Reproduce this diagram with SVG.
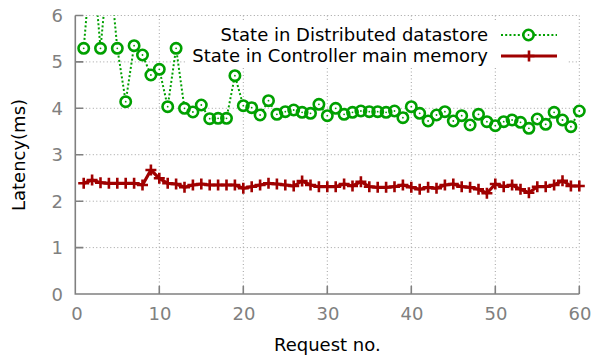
<svg xmlns="http://www.w3.org/2000/svg" xmlns:xlink="http://www.w3.org/1999/xlink" width="597" height="356" viewBox="0 0 597 356">
<style>
.grid{stroke:#a0a0a0;stroke-width:1;stroke-dasharray:1,2.5;fill:none}
.axis{stroke:#808080;stroke-width:1.6;fill:none}
.tick{stroke:#808080;stroke-width:1.6}
.tl{font-family:"DejaVu Sans",sans-serif;font-size:18px;fill:#808080}
.lbl{font-family:"DejaVu Sans",sans-serif;font-size:18px;fill:#000}
.gline{stroke:#00a000;stroke-width:2;stroke-dasharray:2,2.2;fill:none}
.rline{stroke:#a00000;stroke-width:3.2;fill:none;stroke-linejoin:round}
.gdisc{fill:#fff;stroke:none}
.gring{fill:none;stroke:#00a000;stroke-width:2.6}
.gdot{fill:#00a000}
.rplus{stroke:#a00000;stroke-width:2.6;fill:none}
</style>
<defs>
<clipPath id="plot"><rect x="75.3" y="15.5" width="504" height="278.5"/></clipPath>
<circle id="disc" r="4" class="gdisc"/>
<g id="ring"><circle r="5.2" class="gring"/><circle r="0.9" class="gdot"/></g>
<path id="plus" d="M-5.5,0H5.5M0,-5.5V5.5" class="rplus"/>
</defs>
<rect width="597" height="356" fill="#fff"/>
<g id="grid">
<path class="grid" d="M75.3,247.6H579.3M75.3,201.2H579.3M75.3,154.7H579.3M75.3,108.3H579.3M75.3,61.9H579.3M75.3,15.5H579.3M159.3,15.5V294M243.3,15.5V294M327.3,15.5V294M411.3,15.5V294M495.3,15.5V294M579.3,15.5V294"/>
</g>
<g id="axes">
<path class="axis" d="M75.3,15.5V294H579.3"/>
<path class="tick" d="M75.3,247.6h8M75.3,201.2h8M75.3,154.7h8M75.3,108.3h8M75.3,61.9h8M75.3,15.5h8M159.3,294v-8M243.3,294v-8M327.3,294v-8M411.3,294v-8M495.3,294v-8M579.3,294v-8"/>
<g class="tl" text-anchor="end">
<text x="63" y="300.5">0</text><text x="63" y="254.1">1</text><text x="63" y="207.7">2</text><text x="63" y="161.2">3</text><text x="63" y="114.8">4</text><text x="63" y="68.4">5</text><text x="63" y="22">6</text>
</g>
<g class="tl" text-anchor="middle">
<text x="77" y="320">0</text><text x="160" y="320">10</text><text x="244" y="320">20</text><text x="328" y="320">30</text><text x="412" y="320">40</text><text x="496" y="320">50</text><text x="580" y="320">60</text>
</g>
<text class="lbl" x="327.3" y="351" text-anchor="middle">Request no.</text>
<text class="lbl" transform="translate(25,155) rotate(-90)" text-anchor="middle">Latency(ms)</text>
</g>
<g id="legend">
<rect x="186" y="22" width="382" height="46" fill="#fff"/>
<text class="lbl" x="488" y="41.3" text-anchor="end">State in Distributed datastore</text>
<text class="lbl" x="488" y="62.3" text-anchor="end">State in Controller main memory</text>
<path class="gline" d="M501,35H557"/>
<use href="#disc" x="528.5" y="35"/><use href="#ring" x="528.5" y="35"/>
<path class="rline" d="M501,56H557"/>
<use href="#plus" x="529" y="56"/>
</g>
<g id="connectors">
<g clip-path="url(#plot)">
<polyline class="gline" points="83.7,48.3 92.1,-50 100.5,48.3 108.9,-40 117.3,48.3 125.7,101.7 134.1,45.7 142.5,55 150.9,75 159.3,69.3 167.7,106.7 176.1,48.3 184.5,108.3 192.9,112 201.3,105 209.7,118.7 218.1,118.3 226.5,118.3 234.9,75.7 243.3,105.7 251.7,107.7 260.1,115 268.5,100.7 276.9,114.3 285.3,111.7 293.7,110 302.1,112.3 310.5,113.3 318.9,104.3 327.3,115.7 335.7,108.3 344.1,114.3 352.5,112.3 360.9,111 369.3,111.7 377.7,111.7 386.1,112.3 394.5,111 402.9,117.7 411.3,106.7 419.7,113.3 428.1,121 436.5,115 444.9,111.7 453.3,121 461.7,115.7 470.1,125 478.5,114.3 486.9,121.7 495.3,125.7 503.7,121.7 512.1,120 520.5,122.3 528.9,128.3 537.3,119 545.7,124.3 554.1,112.3 562.5,120 570.9,126.7 579.3,111"/>
<polyline class="rline" points="83.7,183.3 92.1,180 100.5,182.7 108.9,183.3 117.3,183.3 125.7,183.3 134.1,183.3 142.5,185 150.9,170 159.3,178.3 167.7,183.3 176.1,184 184.5,187.3 192.9,185 201.3,184 209.7,185 218.1,185 226.5,185 234.9,185 243.3,188.3 251.7,186.7 260.1,185 268.5,183.3 276.9,184 285.3,185 293.7,186 302.1,181 310.5,185 318.9,186.7 327.3,186.7 335.7,186.7 344.1,184 352.5,186 360.9,181.7 369.3,186.7 377.7,187.3 386.1,187.3 394.5,186.7 402.9,185 411.3,187.3 419.7,189.3 428.1,187.3 436.5,188.3 444.9,185 453.3,184 461.7,186.7 470.1,187.3 478.5,189.3 486.9,193.3 495.3,184 503.7,186.7 512.1,185 520.5,189.3 528.9,192.7 537.3,186.7 545.7,186.7 554.1,185 562.5,180.7 570.9,186 579.3,186"/>
</g>
</g>
<g id="series-datastore">
<g id="gdiscs">
<use href="#disc" x="83.7" y="48.3"/><use href="#disc" x="100.5" y="48.3"/><use href="#disc" x="117.3" y="48.3"/><use href="#disc" x="125.7" y="101.7"/><use href="#disc" x="134.1" y="45.7"/><use href="#disc" x="142.5" y="55"/><use href="#disc" x="150.9" y="75"/><use href="#disc" x="159.3" y="69.3"/><use href="#disc" x="167.7" y="106.7"/><use href="#disc" x="176.1" y="48.3"/><use href="#disc" x="184.5" y="108.3"/><use href="#disc" x="192.9" y="112"/><use href="#disc" x="201.3" y="105"/><use href="#disc" x="209.7" y="118.7"/><use href="#disc" x="218.1" y="118.3"/><use href="#disc" x="226.5" y="118.3"/><use href="#disc" x="234.9" y="75.7"/><use href="#disc" x="243.3" y="105.7"/><use href="#disc" x="251.7" y="107.7"/><use href="#disc" x="260.1" y="115"/><use href="#disc" x="268.5" y="100.7"/><use href="#disc" x="276.9" y="114.3"/><use href="#disc" x="285.3" y="111.7"/><use href="#disc" x="293.7" y="110"/><use href="#disc" x="302.1" y="112.3"/><use href="#disc" x="310.5" y="113.3"/><use href="#disc" x="318.9" y="104.3"/><use href="#disc" x="327.3" y="115.7"/><use href="#disc" x="335.7" y="108.3"/><use href="#disc" x="344.1" y="114.3"/><use href="#disc" x="352.5" y="112.3"/><use href="#disc" x="360.9" y="111"/><use href="#disc" x="369.3" y="111.7"/><use href="#disc" x="377.7" y="111.7"/><use href="#disc" x="386.1" y="112.3"/><use href="#disc" x="394.5" y="111"/><use href="#disc" x="402.9" y="117.7"/><use href="#disc" x="411.3" y="106.7"/><use href="#disc" x="419.7" y="113.3"/><use href="#disc" x="428.1" y="121"/><use href="#disc" x="436.5" y="115"/><use href="#disc" x="444.9" y="111.7"/><use href="#disc" x="453.3" y="121"/><use href="#disc" x="461.7" y="115.7"/><use href="#disc" x="470.1" y="125"/><use href="#disc" x="478.5" y="114.3"/><use href="#disc" x="486.9" y="121.7"/><use href="#disc" x="495.3" y="125.7"/><use href="#disc" x="503.7" y="121.7"/><use href="#disc" x="512.1" y="120"/><use href="#disc" x="520.5" y="122.3"/><use href="#disc" x="528.9" y="128.3"/><use href="#disc" x="537.3" y="119"/><use href="#disc" x="545.7" y="124.3"/><use href="#disc" x="554.1" y="112.3"/><use href="#disc" x="562.5" y="120"/><use href="#disc" x="570.9" y="126.7"/><use href="#disc" x="579.3" y="111"/>
</g>
<g id="grings">
<use href="#ring" x="83.7" y="48.3"/><use href="#ring" x="100.5" y="48.3"/><use href="#ring" x="117.3" y="48.3"/><use href="#ring" x="125.7" y="101.7"/><use href="#ring" x="134.1" y="45.7"/><use href="#ring" x="142.5" y="55"/><use href="#ring" x="150.9" y="75"/><use href="#ring" x="159.3" y="69.3"/><use href="#ring" x="167.7" y="106.7"/><use href="#ring" x="176.1" y="48.3"/><use href="#ring" x="184.5" y="108.3"/><use href="#ring" x="192.9" y="112"/><use href="#ring" x="201.3" y="105"/><use href="#ring" x="209.7" y="118.7"/><use href="#ring" x="218.1" y="118.3"/><use href="#ring" x="226.5" y="118.3"/><use href="#ring" x="234.9" y="75.7"/><use href="#ring" x="243.3" y="105.7"/><use href="#ring" x="251.7" y="107.7"/><use href="#ring" x="260.1" y="115"/><use href="#ring" x="268.5" y="100.7"/><use href="#ring" x="276.9" y="114.3"/><use href="#ring" x="285.3" y="111.7"/><use href="#ring" x="293.7" y="110"/><use href="#ring" x="302.1" y="112.3"/><use href="#ring" x="310.5" y="113.3"/><use href="#ring" x="318.9" y="104.3"/><use href="#ring" x="327.3" y="115.7"/><use href="#ring" x="335.7" y="108.3"/><use href="#ring" x="344.1" y="114.3"/><use href="#ring" x="352.5" y="112.3"/><use href="#ring" x="360.9" y="111"/><use href="#ring" x="369.3" y="111.7"/><use href="#ring" x="377.7" y="111.7"/><use href="#ring" x="386.1" y="112.3"/><use href="#ring" x="394.5" y="111"/><use href="#ring" x="402.9" y="117.7"/><use href="#ring" x="411.3" y="106.7"/><use href="#ring" x="419.7" y="113.3"/><use href="#ring" x="428.1" y="121"/><use href="#ring" x="436.5" y="115"/><use href="#ring" x="444.9" y="111.7"/><use href="#ring" x="453.3" y="121"/><use href="#ring" x="461.7" y="115.7"/><use href="#ring" x="470.1" y="125"/><use href="#ring" x="478.5" y="114.3"/><use href="#ring" x="486.9" y="121.7"/><use href="#ring" x="495.3" y="125.7"/><use href="#ring" x="503.7" y="121.7"/><use href="#ring" x="512.1" y="120"/><use href="#ring" x="520.5" y="122.3"/><use href="#ring" x="528.9" y="128.3"/><use href="#ring" x="537.3" y="119"/><use href="#ring" x="545.7" y="124.3"/><use href="#ring" x="554.1" y="112.3"/><use href="#ring" x="562.5" y="120"/><use href="#ring" x="570.9" y="126.7"/><use href="#ring" x="579.3" y="111"/>
</g>
</g>
<g id="series-memory">
<use href="#plus" x="83.7" y="183.3"/><use href="#plus" x="92.1" y="180"/><use href="#plus" x="100.5" y="182.7"/><use href="#plus" x="108.9" y="183.3"/><use href="#plus" x="117.3" y="183.3"/><use href="#plus" x="125.7" y="183.3"/><use href="#plus" x="134.1" y="183.3"/><use href="#plus" x="142.5" y="185"/><use href="#plus" x="150.9" y="170"/><use href="#plus" x="159.3" y="178.3"/><use href="#plus" x="167.7" y="183.3"/><use href="#plus" x="176.1" y="184"/><use href="#plus" x="184.5" y="187.3"/><use href="#plus" x="192.9" y="185"/><use href="#plus" x="201.3" y="184"/><use href="#plus" x="209.7" y="185"/><use href="#plus" x="218.1" y="185"/><use href="#plus" x="226.5" y="185"/><use href="#plus" x="234.9" y="185"/><use href="#plus" x="243.3" y="188.3"/><use href="#plus" x="251.7" y="186.7"/><use href="#plus" x="260.1" y="185"/><use href="#plus" x="268.5" y="183.3"/><use href="#plus" x="276.9" y="184"/><use href="#plus" x="285.3" y="185"/><use href="#plus" x="293.7" y="186"/><use href="#plus" x="302.1" y="181"/><use href="#plus" x="310.5" y="185"/><use href="#plus" x="318.9" y="186.7"/><use href="#plus" x="327.3" y="186.7"/><use href="#plus" x="335.7" y="186.7"/><use href="#plus" x="344.1" y="184"/><use href="#plus" x="352.5" y="186"/><use href="#plus" x="360.9" y="181.7"/><use href="#plus" x="369.3" y="186.7"/><use href="#plus" x="377.7" y="187.3"/><use href="#plus" x="386.1" y="187.3"/><use href="#plus" x="394.5" y="186.7"/><use href="#plus" x="402.9" y="185"/><use href="#plus" x="411.3" y="187.3"/><use href="#plus" x="419.7" y="189.3"/><use href="#plus" x="428.1" y="187.3"/><use href="#plus" x="436.5" y="188.3"/><use href="#plus" x="444.9" y="185"/><use href="#plus" x="453.3" y="184"/><use href="#plus" x="461.7" y="186.7"/><use href="#plus" x="470.1" y="187.3"/><use href="#plus" x="478.5" y="189.3"/><use href="#plus" x="486.9" y="193.3"/><use href="#plus" x="495.3" y="184"/><use href="#plus" x="503.7" y="186.7"/><use href="#plus" x="512.1" y="185"/><use href="#plus" x="520.5" y="189.3"/><use href="#plus" x="528.9" y="192.7"/><use href="#plus" x="537.3" y="186.7"/><use href="#plus" x="545.7" y="186.7"/><use href="#plus" x="554.1" y="185"/><use href="#plus" x="562.5" y="180.7"/><use href="#plus" x="570.9" y="186"/><use href="#plus" x="579.3" y="186"/>
</g>
</svg>
